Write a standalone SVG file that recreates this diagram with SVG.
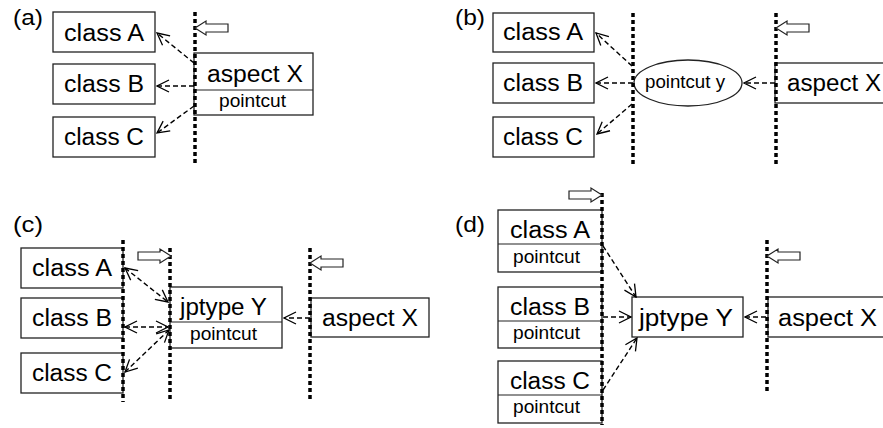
<svg xmlns="http://www.w3.org/2000/svg" xmlns:xlink="http://www.w3.org/1999/xlink" width="883" height="428" viewBox="0 0 883 428">
<style>
.box{fill:#fff;stroke:#222;stroke-width:1.3}
.sep{stroke:#222;stroke-width:1.2}
.t{font-family:"Liberation Sans",Arial,sans-serif;font-size:23px;fill:#000}
.s{font-family:"Liberation Sans",Arial,sans-serif;font-size:17.5px;fill:#000}
.lbl{font-family:"Liberation Sans",Arial,sans-serif;font-size:22px;fill:#000}
.dot{stroke:#000;stroke-width:3.5;stroke-dasharray:4 3;fill:none}
.dash{stroke:#000;stroke-width:1.4;stroke-dasharray:5 3;fill:none;marker-end:url(#v)}
.both{marker-start:url(#v)}
.blk{fill:#fff;stroke:#222;stroke-width:1.2}
</style>
<defs>
<marker id="v" viewBox="-13 -7 14 14" markerWidth="14" markerHeight="14" refX="0" refY="0" orient="auto-start-reverse" markerUnits="userSpaceOnUse">
<path d="M-12,-6 L0,0 L-12,6" fill="none" stroke="#000" stroke-width="1.3"/>
</marker>
<path id="blk" d="M0,0 L11,-7 L11,-4 L33,-4 L33,4 L11,4 L11,7 Z"/>
</defs>
<rect width="883" height="428" fill="#fff"/>

<!-- panel labels -->
<text class="lbl" x="13" y="25" textLength="30" lengthAdjust="spacingAndGlyphs">(a)</text>
<text class="lbl" x="455" y="25" textLength="30" lengthAdjust="spacingAndGlyphs">(b)</text>
<text class="lbl" x="13" y="232" textLength="30" lengthAdjust="spacingAndGlyphs">(c)</text>
<text class="lbl" x="455" y="232" textLength="30" lengthAdjust="spacingAndGlyphs">(d)</text>

<!-- panel (a) -->
<g id="a-classA"><rect class="box" x="53" y="12" width="102" height="40"/><text class="t" x="64" y="41" textLength="80" lengthAdjust="spacingAndGlyphs">class A</text></g>
<g id="a-classB"><rect class="box" x="53" y="64" width="102" height="40"/><text class="t" x="64" y="92" textLength="80" lengthAdjust="spacingAndGlyphs">class B</text></g>
<g id="a-classC"><rect class="box" x="53" y="117" width="102" height="40"/><text class="t" x="64" y="145" textLength="80" lengthAdjust="spacingAndGlyphs">class C</text></g>
<g id="a-aspectX"><rect class="box" x="194" y="53" width="119" height="62"/><line class="sep" x1="194" y1="90" x2="313" y2="90"/><text class="t" x="207" y="82" textLength="96" lengthAdjust="spacingAndGlyphs">aspect X</text><text class="s" x="219" y="107" textLength="67" lengthAdjust="spacingAndGlyphs">pointcut</text></g>

<!-- panel (b) -->
<g id="b-classA"><rect class="box" x="493" y="13" width="101" height="39"/><text class="t" x="503" y="40" textLength="80" lengthAdjust="spacingAndGlyphs">class A</text></g>
<g id="b-classB"><rect class="box" x="493" y="63" width="101" height="40"/><text class="t" x="503" y="91" textLength="80" lengthAdjust="spacingAndGlyphs">class B</text></g>
<g id="b-classC"><rect class="box" x="493" y="117" width="101" height="40"/><text class="t" x="503" y="145" textLength="80" lengthAdjust="spacingAndGlyphs">class C</text></g>
<g id="b-pointcutY"><ellipse class="box" cx="688" cy="83" rx="54" ry="23"/><text class="s" x="645" y="88" textLength="80" lengthAdjust="spacingAndGlyphs">pointcut y</text></g>
<g id="b-aspectX"><rect class="box" x="775" y="63" width="120" height="40"/><text class="t" x="787" y="91" textLength="94" lengthAdjust="spacingAndGlyphs">aspect X</text></g>

<!-- panel (c) -->
<g id="c-classA"><rect class="box" x="21" y="248" width="102" height="40"/><text class="t" x="32" y="276" textLength="80" lengthAdjust="spacingAndGlyphs">class A</text></g>
<g id="c-classB"><rect class="box" x="21" y="298" width="102" height="40"/><text class="t" x="32" y="326" textLength="80" lengthAdjust="spacingAndGlyphs">class B</text></g>
<g id="c-classC"><rect class="box" x="21" y="353" width="102" height="40"/><text class="t" x="32" y="381" textLength="80" lengthAdjust="spacingAndGlyphs">class C</text></g>
<g id="c-jptypeY"><rect class="box" x="170" y="287" width="112" height="61"/><line class="sep" x1="170" y1="322" x2="282" y2="322"/><text class="t" x="180" y="315" textLength="87" lengthAdjust="spacingAndGlyphs">jptype Y</text><text class="s" x="190" y="340" textLength="67" lengthAdjust="spacingAndGlyphs">pointcut</text></g>
<g id="c-aspectX"><rect class="box" x="311" y="298" width="118" height="39"/><text class="t" x="322" y="326" textLength="96" lengthAdjust="spacingAndGlyphs">aspect X</text></g>

<!-- panel (d) -->
<g id="d-classA"><rect class="box" x="498" y="210" width="104" height="62"/><line class="sep" x1="498" y1="244" x2="602" y2="244"/><text class="t" x="510" y="238" textLength="80" lengthAdjust="spacingAndGlyphs">class A</text><text class="s" x="513" y="263" textLength="67" lengthAdjust="spacingAndGlyphs">pointcut</text></g>
<g id="d-classB"><rect class="box" x="498" y="287" width="104" height="61"/><line class="sep" x1="498" y1="321" x2="602" y2="321"/><text class="t" x="510" y="315" textLength="80" lengthAdjust="spacingAndGlyphs">class B</text><text class="s" x="513" y="339" textLength="67" lengthAdjust="spacingAndGlyphs">pointcut</text></g>
<g id="d-classC"><rect class="box" x="498" y="361" width="104" height="62"/><line class="sep" x1="498" y1="395" x2="602" y2="395"/><text class="t" x="510" y="389" textLength="80" lengthAdjust="spacingAndGlyphs">class C</text><text class="s" x="513" y="413" textLength="67" lengthAdjust="spacingAndGlyphs">pointcut</text></g>
<g id="d-jptypeY"><rect class="box" x="632" y="297" width="111" height="40"/><text class="t" x="639" y="326" textLength="94" lengthAdjust="spacingAndGlyphs">jptype Y</text></g>
<g id="d-aspectX"><rect class="box" x="768" y="297" width="130" height="40"/><text class="t" x="778" y="326" textLength="99" lengthAdjust="spacingAndGlyphs">aspect X</text></g>

<!-- boundaries (dotted lines and hollow arrows) -->
<g id="boundaries">
<line class="dot" x1="195" y1="12" x2="195" y2="165"/>
<line class="dot" x1="633" y1="13" x2="633" y2="165"/>
<line class="dot" x1="776" y1="13" x2="776" y2="165"/>
<line class="dot" x1="123" y1="240" x2="123" y2="402"/>
<line class="dot" x1="170" y1="248" x2="170" y2="402"/>
<line class="dot" x1="310" y1="248" x2="310" y2="402"/>
<line class="dot" x1="602" y1="193" x2="602" y2="425"/>
<line class="dot" x1="767" y1="240" x2="767" y2="392"/>
<use xlink:href="#blk" class="blk" transform="translate(195,28)"/>
<use xlink:href="#blk" class="blk" transform="translate(776,28)"/>
<use xlink:href="#blk" class="blk" transform="translate(171,256) scale(-1,1)"/>
<use xlink:href="#blk" class="blk" transform="translate(310,263)"/>
<use xlink:href="#blk" class="blk" transform="translate(602,195) scale(-1,1)"/>
<use xlink:href="#blk" class="blk" transform="translate(767,256)"/>
</g>

<!-- connectors -->
<g id="connectors">
<path class="dash" d="M194,63 L157,33"/>
<path class="dash" d="M194,86 L157,86"/>
<path class="dash" d="M194,106 L157,133"/>
<path class="dash" d="M632,66 L596,33"/>
<path class="dash" d="M633,83 L596,83"/>
<path class="dash" d="M632,104 L597,134"/>
<path class="dash" d="M775,83 L744,83"/>
<path class="dash both" d="M125,268 L168,302"/>
<path class="dash both" d="M125,327 L168,327"/>
<path class="dash both" d="M125,372 L169,330"/>
<path class="dash" d="M310,318 L284,318"/>
<path class="dash" d="M603,246 L636,297"/>
<path class="dash" d="M603,317 L631,317"/>
<path class="dash" d="M603,390 L637,338"/>
<path class="dash" d="M766,317 L745,317"/>
</g>
</svg>
